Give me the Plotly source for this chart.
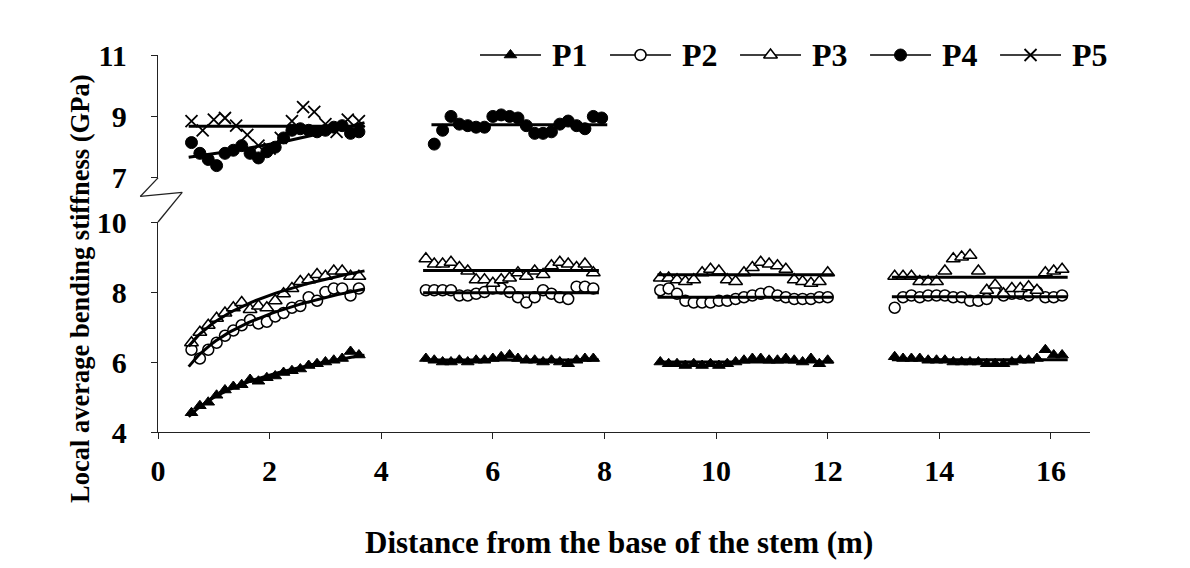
import numpy as np
import plotly.graph_objects as go

# ---------------- data ----------------
X1 = [0.6, 0.75, 0.9, 1.05, 1.2, 1.35, 1.5, 1.65, 1.8, 1.95, 2.1, 2.25, 2.4, 2.55, 2.7, 2.85, 3.0, 3.15, 3.3, 3.45, 3.6]
X2 = [4.8, 4.95, 5.1, 5.25, 5.4, 5.55, 5.7, 5.85, 6.0, 6.15, 6.3, 6.45, 6.6, 6.75, 6.9, 7.05, 7.2, 7.35, 7.5, 7.65, 7.8]
X2_P4 = [4.95, 5.1, 5.25, 5.4, 5.55, 5.7, 5.85, 6.0, 6.15, 6.3, 6.45, 6.6, 6.75, 6.9, 7.05, 7.2, 7.35, 7.5, 7.65, 7.8, 7.95]
X3 = [9.0, 9.15, 9.3, 9.45, 9.6, 9.75, 9.9, 10.05, 10.2, 10.35, 10.5, 10.65, 10.8, 10.95, 11.1, 11.25, 11.4, 11.55, 11.7, 11.85, 12.0]
X4 = [13.2, 13.35, 13.5, 13.65, 13.8, 13.95, 14.1, 14.25, 14.4, 14.55, 14.7, 14.85, 15.0, 15.15, 15.3, 15.45, 15.6, 15.75, 15.9, 16.05, 16.2]
X1_P5 = [0.6, 0.8, 1.0, 1.2, 1.4, 1.6, 1.8, 2.0, 2.2, 2.4, 2.6, 2.8, 3.0, 3.2, 3.4, 3.6]

P1_S1 = [4.55, 4.75, 4.85, 5.05, 5.2, 5.3, 5.35, 5.5, 5.45, 5.55, 5.6, 5.7, 5.75, 5.8, 5.9, 5.95, 6.0, 6.05, 6.1, 6.3, 6.2]
P1_S2 = [6.1, 6.05, 6.0, 6.0, 6.05, 6.0, 6.05, 6.05, 6.1, 6.15, 6.2, 6.1, 6.05, 6.05, 6.0, 6.05, 6.0, 5.95, 6.05, 6.1, 6.1]
P1_S3 = [6.0, 5.95, 5.95, 5.9, 5.95, 5.9, 5.95, 5.9, 5.95, 6.0, 6.05, 6.1, 6.1, 6.05, 6.05, 6.1, 6.05, 6.0, 6.1, 5.95, 6.05]
P1_S4 = [6.15, 6.1, 6.1, 6.1, 6.05, 6.05, 6.05, 6.0, 6.0, 6.0, 6.0, 5.95, 5.95, 5.95, 6.0, 6.05, 6.05, 6.1, 6.35, 6.2, 6.2]

P2_S1 = [6.35, 6.1, 6.35, 6.55, 6.75, 6.9, 7.05, 7.2, 7.1, 7.15, 7.3, 7.4, 7.55, 7.6, 7.85, 7.75, 8.0, 8.1, 8.1, 7.9, 8.1]
P2_S2 = [8.05, 8.05, 8.05, 8.05, 7.9, 7.9, 7.95, 8.0, 8.1, 8.1, 8.0, 7.85, 7.7, 7.85, 8.05, 7.95, 7.85, 7.8, 8.15, 8.15, 8.1]
P2_S3 = [8.05, 8.1, 7.95, 7.75, 7.7, 7.7, 7.7, 7.75, 7.75, 7.8, 7.85, 7.9, 7.95, 8.0, 7.9, 7.85, 7.8, 7.8, 7.8, 7.85, 7.85]
P2_S4 = [7.55, 7.85, 7.9, 7.85, 7.9, 7.9, 7.9, 7.85, 7.85, 7.75, 7.75, 7.8, 8.0, 7.9, 7.95, 7.95, 7.9, 8.0, 7.85, 7.85, 7.9]

P3_S1 = [6.55, 6.85, 7.05, 7.25, 7.4, 7.55, 7.7, 7.5, 7.6, 7.55, 7.75, 7.95, 8.1, 8.3, 8.35, 8.5, 8.45, 8.6, 8.6, 8.45, 8.45]
P3_S2 = [8.95, 8.8, 8.8, 8.85, 8.7, 8.6, 8.35, 8.35, 8.25, 8.35, 8.4, 8.55, 8.45, 8.6, 8.5, 8.75, 8.85, 8.8, 8.7, 8.8, 8.55]
P3_S3 = [8.4, 8.4, 8.35, 8.3, 8.35, 8.55, 8.65, 8.6, 8.35, 8.3, 8.55, 8.7, 8.85, 8.8, 8.75, 8.65, 8.35, 8.3, 8.25, 8.3, 8.55]
P3_S4 = [8.45, 8.45, 8.45, 8.3, 8.3, 8.3, 8.6, 8.95, 9.0, 9.05, 8.6, 8.05, 8.2, 7.95, 8.1, 8.1, 8.15, 8.05, 8.55, 8.6, 8.65]

P4_S1 = [8.15, 7.8, 7.6, 7.4, 7.8, 7.9, 8.05, 7.8, 7.65, 7.85, 8.0, 8.3, 8.55, 8.6, 8.55, 8.5, 8.55, 8.65, 8.7, 8.45, 8.5]
P4_S2 = [8.1, 8.55, 9.0, 8.75, 8.7, 8.65, 8.65, 9.0, 9.05, 9.0, 8.95, 8.7, 8.45, 8.45, 8.5, 8.75, 8.85, 8.7, 8.6, 9.0, 8.95]

P5_S1 = [8.85, 8.55, 8.9, 8.95, 8.7, 8.4, 8.05, 7.95, 8.3, 8.85, 9.3, 9.15, 8.75, 8.5, 8.9, 8.85]

X_TICKS = [0, 2, 4, 6, 8, 10, 12, 14, 16]
Y_LOW_TICKS = [4, 6, 8, 10]
Y_UP_TICKS = [7, 9, 11]
NAMES = ["P1", "P2", "P3", "P4", "P5"]

# ---------------- styling ----------------
FONT = "Liberation Serif"
BLACK = "#000000"
AXIS_COLOR = "#222222"
MARKERS = {
    "P1": dict(symbol="triangle-up", color=BLACK, size=11, line=dict(color=BLACK, width=1)),
    "P2": dict(symbol="circle", color="white", size=11, line=dict(color=BLACK, width=1.5)),
    "P3": dict(symbol="triangle-up", color="white", size=12, line=dict(color=BLACK, width=1.5)),
    "P4": dict(symbol="circle", color=BLACK, size=12, line=dict(color=BLACK, width=1)),
    "P5": dict(symbol="x-thin", color=BLACK, size=12, line=dict(color=BLACK, width=1.8)),
}

X_RANGE = [0, 16.7]
LOW_DOM = [0.0, 0.557]
UP_DOM = [0.674, 1.0]

fig = go.Figure()

series = [
    ("P1", "y", [(X1, P1_S1, "log"), (X2, P1_S2, "mean"), (X3, P1_S3, "mean"), (X4, P1_S4, "mean")]),
    ("P2", "y", [(X1, P2_S1, "log"), (X2, P2_S2, "mean"), (X3, P2_S3, "mean"), (X4, P2_S4, "mean")]),
    ("P3", "y", [(X1, P3_S1, "log"), (X2, P3_S2, "mean"), (X3, P3_S3, "mean"), (X4, P3_S4, "mean")]),
    ("P4", "y2", [(X1, P4_S1, "poly"), (X2_P4, P4_S2, "mean")]),
    ("P5", "y2", [(X1_P5, P5_S1, "mean")]),
]

# markers
for name, yax, segs in series:
    for xs, ys, _ in segs:
        fig.add_trace(go.Scatter(x=xs, y=ys, mode="markers", marker=MARKERS[name],
                                 yaxis=yax, showlegend=False, hoverinfo="x+y", name=name))

# trend lines (drawn on top, as in the original)
for name, yax, segs in series:
    for xs, ys, kind in segs:
        xa = np.array(xs, dtype=float)
        ya = np.array(ys, dtype=float)
        xx = np.linspace(xa.min() - 0.05, xa.max() + 0.1, 60)
        if kind == "log":
            b, a = np.polyfit(np.log(xa), ya, 1)
            yy = a + b * np.log(xx)
        elif kind == "poly":
            yy = np.polyval(np.polyfit(xa, ya, 2), xx)
        else:
            yy = np.full_like(xx, ya.mean())
        fig.add_trace(go.Scatter(x=xx, y=yy, mode="lines", line=dict(color=BLACK, width=3),
                                 yaxis=yax, showlegend=False, hoverinfo="skip"))

# ---------------- custom legend (long line symbols, one row) ----------------
LEG_START = 0.3455     # paper fraction of plot width where first symbol line starts
LEG_PERIOD = 0.1395
LEG_LINE = 0.0654
LEG_GAP = 0.0095
LEG_Y = 1.0
for i, name in enumerate(NAMES):
    x0 = LEG_START + i * LEG_PERIOD
    x1 = x0 + LEG_LINE
    fig.add_shape(type="line", xref="paper", yref="paper", x0=x0, x1=x1, y0=LEG_Y, y1=LEG_Y,
                  line=dict(color=BLACK, width=1.5), layer="below")
    xm = (x0 + x1) / 2 * (X_RANGE[1] - X_RANGE[0]) + X_RANGE[0]
    m = dict(MARKERS[name])
    fig.add_trace(go.Scatter(x=[xm], y=[Y_UP_TICKS[-1]], mode="markers", marker=m, yaxis="y2",
                             cliponaxis=False, showlegend=False, hoverinfo="skip", name=name))
    fig.add_annotation(text=name, xref="paper", yref="paper", x=x1 + LEG_GAP, y=LEG_Y,
                       xanchor="left", yanchor="middle", showarrow=False,
                       font=dict(family=FONT, size=32, color=BLACK, weight="bold"))

axis_common = dict(showline=True, linecolor=AXIS_COLOR, linewidth=1.3, ticks="outside",
                   ticklen=6, tickcolor=AXIS_COLOR, tickwidth=1.3, showgrid=False, zeroline=False,
                   tickfont=dict(family=FONT, size=30, color=BLACK, weight="bold"))

fig.update_layout(
    width=1182, height=560, autosize=False,
    margin=dict(l=150, r=100, t=47, b=136),
    paper_bgcolor="white", plot_bgcolor="rgba(0,0,0,0)",
    xaxis=dict(range=X_RANGE, tickvals=X_TICKS, anchor="y", ticklabelstandoff=6, **axis_common),
    yaxis=dict(domain=LOW_DOM, range=[4, 10], tickvals=Y_LOW_TICKS, anchor="x",
               ticklabelstandoff=18, **axis_common),
    yaxis2=dict(domain=UP_DOM, range=[7, 11], tickvals=Y_UP_TICKS, anchor="x",
                ticklabelstandoff=18, **axis_common),
    showlegend=False,
)

# axis titles as annotations
fig.add_annotation(text="Distance from the base of the stem (m)", xref="paper", yref="paper",
                   x=0.495, y=-0.294, yanchor="middle", showarrow=False,
                   font=dict(family=FONT, size=31, color=BLACK, weight="bold"))
fig.add_annotation(text="Local average bending stiffness (GPa)", xref="paper", yref="paper",
                   x=-0.0835, y=0.38, xanchor="center", yanchor="middle", textangle=-90,
                   showarrow=False, font=dict(family=FONT, size=26.5, color=BLACK, weight="bold"))

# axis break zig-zag (paper coordinates so it is not clipped)
up_bot = UP_DOM[0]
lo_top = LOW_DOM[1]
gap = up_bot - lo_top
pts = [(0.0, up_bot), (-0.019, up_bot - 0.42 * gap), (0.026, up_bot - 0.33 * gap), (0.0, lo_top)]
for (x0, y0), (x1, y1) in zip(pts[:-1], pts[1:]):
    fig.add_shape(type="line", xref="paper", yref="paper", x0=x0, y0=y0, x1=x1, y1=y1,
                  line=dict(color=AXIS_COLOR, width=1.3))

fig.write_html("out.html")
